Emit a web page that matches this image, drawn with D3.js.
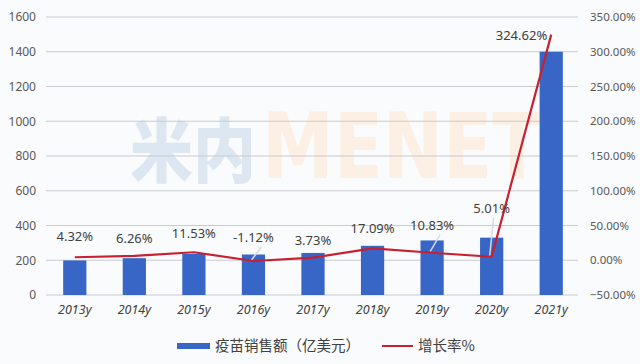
<!DOCTYPE html>
<html><head><meta charset="utf-8">
<script src="https://cdn.jsdelivr.net/npm/d3@7/dist/d3.min.js"></script>
<style>
html,body{margin:0;padding:0;background:#f9fbfd;}
svg{display:block;font-family:"Noto Sans CJK SC","Noto Sans",sans-serif;}
</style></head>
<body><svg id="c" width="640" height="364"></svg>
<script>
const categories = ["2013y","2014y","2015y","2016y","2017y","2018y","2019y","2020y","2021y"];
const sales = [199, 212, 236, 233, 242, 283, 314, 330, 1400];
const growth = [4.32, 6.26, 11.53, -1.12, 3.73, 17.09, 10.83, 5.01, 324.62];
const growthLabels = ["4.32%","6.26%","11.53%","-1.12%","3.73%","17.09%","10.83%","5.01%","324.62%"];
const leftTicks = [0,200,400,600,800,1000,1200,1400,1600];
const rightTicks = [-50,0,50,100,150,200,250,300,350];
const legendNames = ["疫苗销售额（亿美元）","增长率%"];

const svg = d3.select("#c");
const x = d3.scaleBand().domain(categories).range([45, 581]).paddingInner(0.61).paddingOuter(0.305);
const yL = d3.scaleLinear().domain([0,1600]).range([295,17]);
const yR = d3.scaleLinear().domain([-50,350]).range([295,17]);
const labelFont = "'Noto Sans','DejaVu Sans',sans-serif";

// watermark
svg.append("text").attr("transform","translate(130,177) scale(1,1.12)")
  .attr("font-size",63).attr("fill","#dde7f2")
  .attr("font-family","'Noto Sans CJK SC'").attr("font-weight","900").text("米内");
svg.append("text").attr("transform","translate(262,178) scale(1,1.25)")
  .attr("font-size",72).attr("fill","#fcefe3")
  .attr("font-family","'DejaVu Sans'").attr("font-weight","bold").text("MENET");

// gridlines
svg.append("g").selectAll("line").data(leftTicks).join("line")
  .attr("x1",46).attr("x2",578).attr("y1",d=>yL(d)).attr("y2",d=>yL(d))
  .attr("stroke","#c9cbcf").attr("stroke-width",1.2);

// left axis
const axL = d3.axisLeft(yL).tickValues(leftTicks).tickSize(0).tickPadding(0).tickFormat(d=>d);
const gL = svg.append("g").attr("transform","translate(36,0)").call(axL);
gL.select(".domain").remove();
gL.selectAll("text").attr("font-size",12).attr("fill","#595959").attr("font-family",labelFont);

// right axis
const axR = d3.axisRight(yR).tickValues(rightTicks).tickSize(0).tickPadding(0).tickFormat(d=>d3.format(".2f")(d)+"%");
const gR = svg.append("g").attr("transform","translate(590,0)").call(axR);
gR.select(".domain").remove();
gR.selectAll("text").attr("font-size",11.5).attr("fill","#595959").attr("font-family",labelFont);

// bars
svg.append("g").selectAll("rect").data(sales).join("rect")
  .attr("x",(d,i)=>x(categories[i])).attr("width",x.bandwidth())
  .attr("y",d=>yL(d)).attr("height",d=>yL(0)-yL(d)).attr("fill","#3866c6");

// x axis labels
const axB = d3.axisBottom(x).tickSize(0).tickPadding(0);
const gB = svg.append("g").attr("transform","translate(0,305)").call(axB);
gB.select(".domain").remove();
gB.selectAll("text").attr("font-size",12.5).attr("fill","#404040").attr("font-style","italic")
  .attr("font-family",labelFont);

// line
const cx = i => x(categories[i]) + x.bandwidth()/2;
const line = d3.line().x((d,i)=>cx(i)).y(d=>yR(d));
// label layout nudges (layout, not data)
const labelLift = [21,18,19,24,18,20,28,49,0];
// leader lines
[3,6,7].forEach(i=>{
  svg.append("line").attr("x1",cx(i)-2).attr("y1",yR(growth[i])-1)
    .attr("x2",cx(i)+(i===7?2:8)).attr("y2",yR(growth[i])-labelLift[i]+10)
    .attr("stroke","#d6dbe6").attr("stroke-width",1.5);
});
svg.append("path").datum(growth).attr("d",line).attr("fill","none")
  .attr("stroke","#c8202f").attr("stroke-width",2.2).attr("stroke-linejoin","round");

// data labels
svg.append("g").selectAll("text").data(growthLabels).join("text")
  .attr("x",(d,i)=> i===8 ? cx(i)-4 : cx(i))
  .attr("y",(d,i)=> yR(growth[i]) - labelLift[i] + 5)
  .attr("text-anchor",(d,i)=> i===8 ? "end" : "middle")
  .attr("font-size",13).attr("fill","#404040")
  .attr("font-family",labelFont)
  .text(d=>d);

// legend
const lg = svg.append("g");
lg.append("rect").attr("x",177).attr("y",343).attr("width",33).attr("height",6).attr("fill","#3866c6");
lg.append("text").attr("x",215).attr("y",351).attr("font-size",14.5).attr("fill","#404040").text(legendNames[0]);
lg.append("line").attr("x1",382).attr("x2",413).attr("y1",346).attr("y2",346).attr("stroke","#c8202f").attr("stroke-width",2);
lg.append("text").attr("x",418).attr("y",351).attr("font-size",14.5).attr("fill","#404040").text(legendNames[1]);
</script></body></html>
